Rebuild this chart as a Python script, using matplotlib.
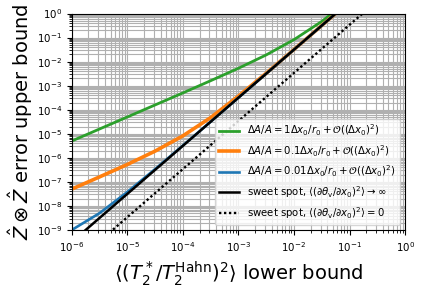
import matplotlib
matplotlib.use("Agg")
import matplotlib.pyplot as plt
import numpy as np

# x positions (lower bound of <(T2*/T2Hahn)^2>), half-decade grid
x = [1e-6, 3.16e-6, 1e-5, 3.16e-5, 1e-4, 3.16e-4, 1e-3, 3.16e-3, 1e-2, 3.16e-2, 1e-1]
green = [5.0e-6, 1.58e-5, 5.0e-5, 1.58e-4, 5.0e-4, 1.61e-3, 5.3e-3, 1.9e-2, 8.2e-2, 0.47, 3.7]
orange = [5.0e-8, 1.61e-7, 5.3e-7, 1.9e-6, 8.2e-6, 4.7e-5, 3.7e-4, 3.3e-3, 3.2e-2, 0.318, 3.17]
blue = [1.0e-9, 5.0e-9, 3.8e-8, 3.4e-7, 3.25e-6, 3.18e-5, 3.17e-4, 3.16e-3, 3.16e-2, 0.316, 3.16]
x_sweet = [1e-6, 1e-5, 1e-4, 1e-3, 1e-2, 1e-1, 1e0]
sweet_inf = [3.16e-10, 3.16e-8, 3.16e-6, 3.16e-4, 3.16e-2, 3.16, 316]
sweet_zero = [3.4e-11, 3.4e-9, 3.4e-7, 3.4e-5, 3.4e-3, 0.34, 34]

labels = [r'$\Delta A/A = 1\Delta x_0/r_0 + \mathcal{O}((\Delta x_0)^2)$',
          r'$\Delta A/A = 0.1\Delta x_0/r_0 + \mathcal{O}((\Delta x_0)^2)$',
          r'$\Delta A/A = 0.01\Delta x_0/r_0 + \mathcal{O}((\Delta x_0)^2)$',
          r'sweet spot, $\langle(\partial\theta_{\rm v}/\partial x_0)^2\rangle \to \infty$',
          r'sweet spot, $\langle(\partial\theta_{\rm v}/\partial x_0)^2\rangle = 0$']

fig = plt.figure(figsize=(4.22, 2.88), dpi=100)
ax = fig.add_axes([0.170, 0.2014, 0.790, 0.7516])

ax.loglog(x, green, color='#2ca02c', lw=2.0, label=labels[0])
ax.loglog(x, orange, color='#ff7f0e', lw=2.6, label=labels[1])
ax.loglog(x, blue, color='#1f77b4', lw=1.9, label=labels[2])
ax.loglog(x_sweet, sweet_inf, color='black', lw=1.8, label=labels[3])
ax.loglog(x_sweet, sweet_zero, color='black', lw=1.7, ls=(0, (1, 1.1)), label=labels[4])

ax.set_xlim(1e-6, 1e0)
ax.set_ylim(1e-9, 1e0)
ax.grid(True, which='both', color='#b0b0b0', lw=0.8)
ax.tick_params(labelsize=7.4)
ax.set_xlabel(r'$\langle(T_2^*/T_2^{\rm Hahn})^2\rangle$ lower bound', fontsize=14)
ax.set_ylabel(r'$\hat{Z}\otimes\hat{Z}$ error upper bound', fontsize=14, labelpad=1.5)
ax.legend(loc='lower right', fontsize=7.3)

fig.savefig('out.png', dpi=100)
